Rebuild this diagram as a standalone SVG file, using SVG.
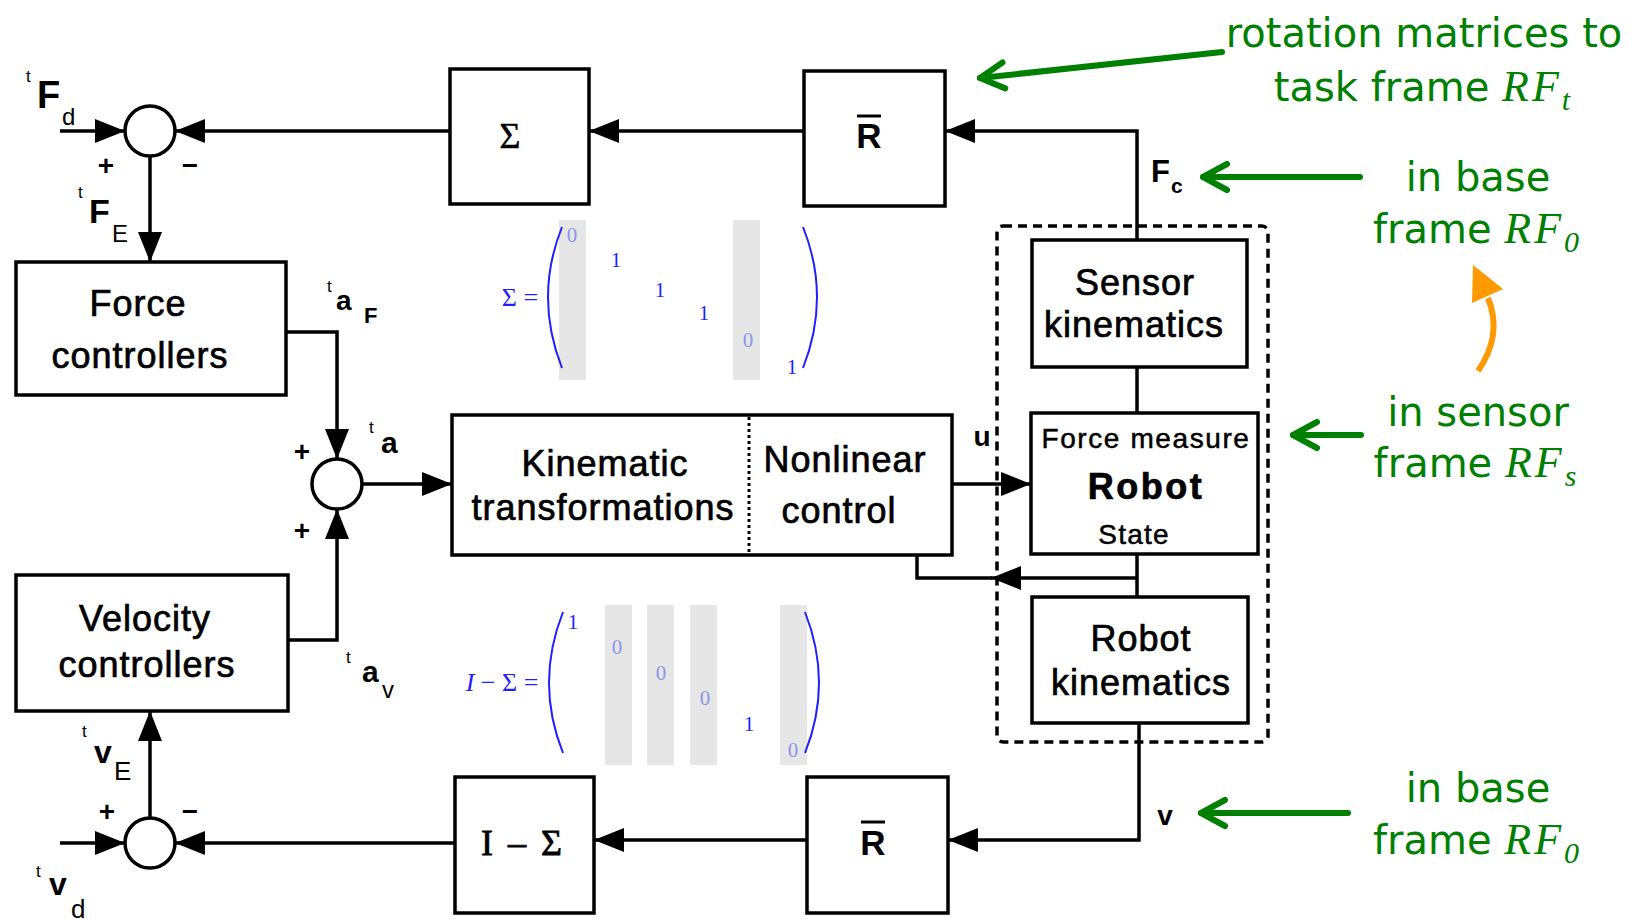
<svg xmlns="http://www.w3.org/2000/svg" width="1640" height="921" viewBox="0 0 1640 921">
<defs>
<style>
.box{fill:#fff;stroke:#000;stroke-width:3.5}
.ln{fill:none;stroke:#000;stroke-width:3.5}
.sum{fill:#fff;stroke:#000;stroke-width:3.5}
.bt{font-family:"Liberation Sans",Arial,sans-serif;font-size:36px;fill:#000;stroke:#000;stroke-width:0.7;letter-spacing:1px;text-anchor:middle}
.lb{font-family:"Liberation Sans",Arial,sans-serif;fill:#000;font-weight:bold}
.sup{font-family:"Liberation Sans",Arial,sans-serif;fill:#000;font-size:17px}
.sub{font-family:"Liberation Sans",Arial,sans-serif;fill:#000}
.gt{font-family:"DejaVu Sans",sans-serif;font-size:40px;fill:#008000;text-anchor:middle}
.gm{font-family:"Liberation Serif",serif;font-style:italic;font-size:44px;letter-spacing:3px}
.gs{font-size:30px;letter-spacing:0}
.ga{fill:none;stroke:#008000;stroke-width:6;stroke-linecap:round}
.mx{font-family:"Liberation Serif",serif;font-size:21px;fill:#1f1fff;text-anchor:middle}
.mz{fill:#8a96ea}
.col{fill:#e6e6e6}
.par{fill:none;stroke:#1f1fff;stroke-width:2}
</style>
<marker id="ah" viewBox="0 0 30 24" refX="30" refY="12" markerWidth="30" markerHeight="24" markerUnits="userSpaceOnUse" orient="auto"><path d="M0,0 L30,12 L0,24 z" fill="#000"/></marker>
<marker id="gh" viewBox="-32 -18 36 36" refX="0" refY="0" markerWidth="36" markerHeight="36" markerUnits="userSpaceOnUse" orient="auto"><path d="M-24,-13 L0,0 L-24,13" fill="none" stroke="#008000" stroke-width="6" stroke-linecap="round" stroke-linejoin="round"/></marker>
</defs>
<rect width="1640" height="921" fill="#fff"/>

<g id="matrix-sigma">
<rect class="col" x="559" y="220" width="27" height="160"/>
<rect class="col" x="733" y="220" width="27" height="160"/>
<text class="mx" x="520" y="306" style="font-size:26px">Σ =</text>
<path class="par" d="M562,227 Q534,297 562,368"/>
<path class="par" d="M803,227 Q831,297 803,368"/>
<text class="mx mz" x="572" y="242">0</text>
<text class="mx" x="616" y="267">1</text>
<text class="mx" x="660" y="297">1</text>
<text class="mx" x="704" y="320">1</text>
<text class="mx mz" x="748" y="347">0</text>
<text class="mx" x="792" y="374">1</text>
</g>

<g id="matrix-isigma">
<rect class="col" x="605" y="605" width="27" height="160"/>
<rect class="col" x="647" y="605" width="27" height="160"/>
<rect class="col" x="690" y="605" width="27" height="160"/>
<rect class="col" x="780" y="605" width="27" height="160"/>
<text class="mx" x="502" y="691" style="font-size:26px"><tspan font-style="italic">I</tspan> − Σ =</text>
<path class="par" d="M563,612 Q535,683 563,753"/>
<path class="par" d="M805,612 Q833,683 805,753"/>
<text class="mx" x="573" y="629">1</text>
<text class="mx mz" x="617" y="654">0</text>
<text class="mx mz" x="661" y="680">0</text>
<text class="mx mz" x="705" y="705">0</text>
<text class="mx" x="749" y="731">1</text>
<text class="mx mz" x="793" y="757">0</text>
</g>

<g id="connectors">
<path class="ln" d="M60,131 H125" marker-end="url(#ah)"/>
<path class="ln" d="M450,131 H175" marker-end="url(#ah)"/>
<path class="ln" d="M804,131 H589" marker-end="url(#ah)"/>
<path class="ln" d="M1137,240 V131 H945" marker-end="url(#ah)"/>
<path class="ln" d="M150,156 V262" marker-end="url(#ah)"/>
<path class="ln" d="M286,332 H337 V459" marker-end="url(#ah)"/>
<path class="ln" d="M288,640 H337 V509" marker-end="url(#ah)"/>
<path class="ln" d="M362,484 H452" marker-end="url(#ah)"/>
<path class="ln" d="M952,484 H1031" marker-end="url(#ah)"/>
<path class="ln" d="M1137,367 V413"/>
<path class="ln" d="M1137,554 V597"/>
<path class="ln" d="M1137,578 H991" marker-end="url(#ah)"/>
<path class="ln" d="M992,578 H917 V555"/>
<path class="ln" d="M1139,723 V840 H948" marker-end="url(#ah)"/>
<path class="ln" d="M807,840 H594" marker-end="url(#ah)"/>
<path class="ln" d="M455,843 H175" marker-end="url(#ah)"/>
<path class="ln" d="M60,843 H125" marker-end="url(#ah)"/>
<path class="ln" d="M150,818 V711" marker-end="url(#ah)"/>
</g>

<g id="robot-group">
<rect x="997" y="226" width="271" height="516" rx="6" fill="none" stroke="#000" stroke-width="3.5" stroke-dasharray="9 6"/>
</g>

<g id="sum-top">
<circle class="sum" cx="150" cy="131" r="25"/>
<text class="lb" x="106" y="175" font-size="28" text-anchor="middle">+</text>
<text class="lb" x="190" y="175" font-size="28" text-anchor="middle">−</text>
</g>
<g id="sum-mid">
<circle class="sum" cx="337" cy="484" r="25"/>
<text class="lb" x="302" y="461" font-size="28" text-anchor="middle">+</text>
<text class="lb" x="302" y="540" font-size="28" text-anchor="middle">+</text>
</g>
<g id="sum-bottom">
<circle class="sum" cx="150" cy="843" r="25"/>
<text class="lb" x="107" y="821" font-size="28" text-anchor="middle">+</text>
<text class="lb" x="190" y="821" font-size="28" text-anchor="middle">−</text>
</g>

<g id="sigma-box">
<rect class="box" x="450" y="69" width="139" height="135"/>
<text x="510" y="148" font-family="Liberation Serif,serif" font-size="36" text-anchor="middle" stroke="#000" stroke-width="0.5">Σ</text>
</g>
<g id="rbar-top">
<rect class="box" x="804" y="71" width="141" height="135"/>
<text class="lb" x="869" y="148" font-size="35" text-anchor="middle">R</text>
<line x1="857" y1="116" x2="881" y2="116" stroke="#000" stroke-width="3"/>
</g>
<g id="force-controllers">
<rect class="box" x="16" y="262" width="270" height="133"/>
<text class="bt" x="138" y="316">Force</text>
<text class="bt" x="140" y="368">controllers</text>
</g>
<g id="velocity-controllers">
<rect class="box" x="16" y="575" width="272" height="136"/>
<text class="bt" x="145" y="631">Velocity</text>
<text class="bt" x="147" y="677">controllers</text>
</g>
<g id="kinematic-nonlinear">
<rect class="box" x="452" y="415" width="500" height="140"/>
<line x1="749" y1="417" x2="749" y2="553" stroke="#000" stroke-width="3" stroke-dasharray="3 3"/>
<text class="bt" x="605" y="476">Kinematic</text>
<text class="bt" x="603" y="520">transformations</text>
<text class="bt" x="845" y="472">Nonlinear</text>
<text class="bt" x="839" y="523">control</text>
</g>
<g id="sensor-kinematics">
<rect class="box" x="1032" y="240" width="215" height="127"/>
<text class="bt" x="1135" y="295">Sensor</text>
<text class="bt" x="1134" y="337">kinematics</text>
</g>
<g id="robot">
<rect class="box" x="1031" y="413" width="227" height="141"/>
<text class="bt" x="1146" y="448" style="font-size:28px;letter-spacing:1.6px;stroke-width:0.5">Force measure</text>
<text class="bt" x="1146" y="499" style="font-weight:bold;letter-spacing:2.5px">Robot</text>
<text class="bt" x="1134" y="544" style="font-size:28px;letter-spacing:1.2px;stroke-width:0.5">State</text>
</g>
<g id="robot-kinematics">
<rect class="box" x="1032" y="597" width="216" height="126"/>
<text class="bt" x="1141" y="651">Robot</text>
<text class="bt" x="1141" y="695">kinematics</text>
</g>
<g id="rbar-bottom">
<rect class="box" x="807" y="777" width="141" height="136"/>
<text class="lb" x="873" y="855" font-size="35" text-anchor="middle">R</text>
<line x1="861" y1="822" x2="885" y2="822" stroke="#000" stroke-width="3"/>
</g>
<g id="isigma-box">
<rect class="box" x="455" y="777" width="139" height="136"/>
<text x="523" y="855" font-family="Liberation Serif,serif" font-size="36" text-anchor="middle" stroke="#000" stroke-width="0.8" letter-spacing="3">I – Σ</text>
</g>

<g id="signal-labels">
<text class="sup" x="26" y="82">t</text>
<text class="lb" x="37" y="108" font-size="38">F</text>
<text class="sub" x="62" y="125" font-size="24">d</text>
<text class="sup" x="78" y="198">t</text>
<text class="lb" x="89" y="223" font-size="34">F</text>
<text class="sub" x="112" y="242" font-size="24">E</text>
<text class="sup" x="327" y="292">t</text>
<text class="lb" x="336" y="310" font-size="28">a</text>
<text class="lb" x="364" y="323" font-size="22">F</text>
<text class="sup" x="369" y="433">t</text>
<text class="lb" x="381" y="453" font-size="30">a</text>
<text class="sup" x="346" y="663">t</text>
<text class="lb" x="362" y="682" font-size="30">a</text>
<text class="sub" x="382" y="698" font-size="24">v</text>
<text class="sup" x="82" y="737">t</text>
<text class="lb" x="94" y="763" font-size="32">v</text>
<text class="sub" x="114" y="780" font-size="26">E</text>
<text class="sup" x="36" y="877">t</text>
<text class="lb" x="49" y="895" font-size="32">v</text>
<text class="sub" x="71" y="918" font-size="26">d</text>
<text class="lb" x="1151" y="182" font-size="31">F</text>
<text class="lb" x="1171" y="193" font-size="21">c</text>
<text class="lb" x="982" y="446" font-size="28" text-anchor="middle">u</text>
<text class="lb" x="1165" y="825" font-size="28" text-anchor="middle">v</text>
</g>

<g id="annotations">
<line class="ga" x1="1222" y1="52" x2="980" y2="78" marker-end="url(#gh)"/>
<line class="ga" x1="1360" y1="177" x2="1203" y2="177" marker-end="url(#gh)"/>
<line class="ga" x1="1361" y1="435" x2="1293" y2="435" marker-end="url(#gh)"/>
<line class="ga" x1="1348" y1="813" x2="1201" y2="813" marker-end="url(#gh)"/>
<text class="gt" x="1424" y="47">rotation matrices to</text>
<text class="gt" x="1422" y="101">task frame <tspan class="gm">RF</tspan><tspan class="gm gs" dy="9">t</tspan></text>
<text class="gt" x="1478" y="191">in base</text>
<text class="gt" x="1476" y="243">frame <tspan class="gm">RF</tspan><tspan class="gm gs" dy="9">0</tspan></text>
<text class="gt" x="1478" y="426">in sensor</text>
<text class="gt" x="1475" y="477">frame <tspan class="gm">RF</tspan><tspan class="gm gs" dy="9">s</tspan></text>
<text class="gt" x="1478" y="802">in base</text>
<text class="gt" x="1476" y="854">frame <tspan class="gm">RF</tspan><tspan class="gm gs" dy="9">0</tspan></text>
<path d="M1478,371 Q1503,335 1488,298" fill="none" stroke="#ff9900" stroke-width="6"/>
<path d="M1473,265 L1503,289 L1472,303 z" fill="#ff9900"/>
</g>
</svg>
